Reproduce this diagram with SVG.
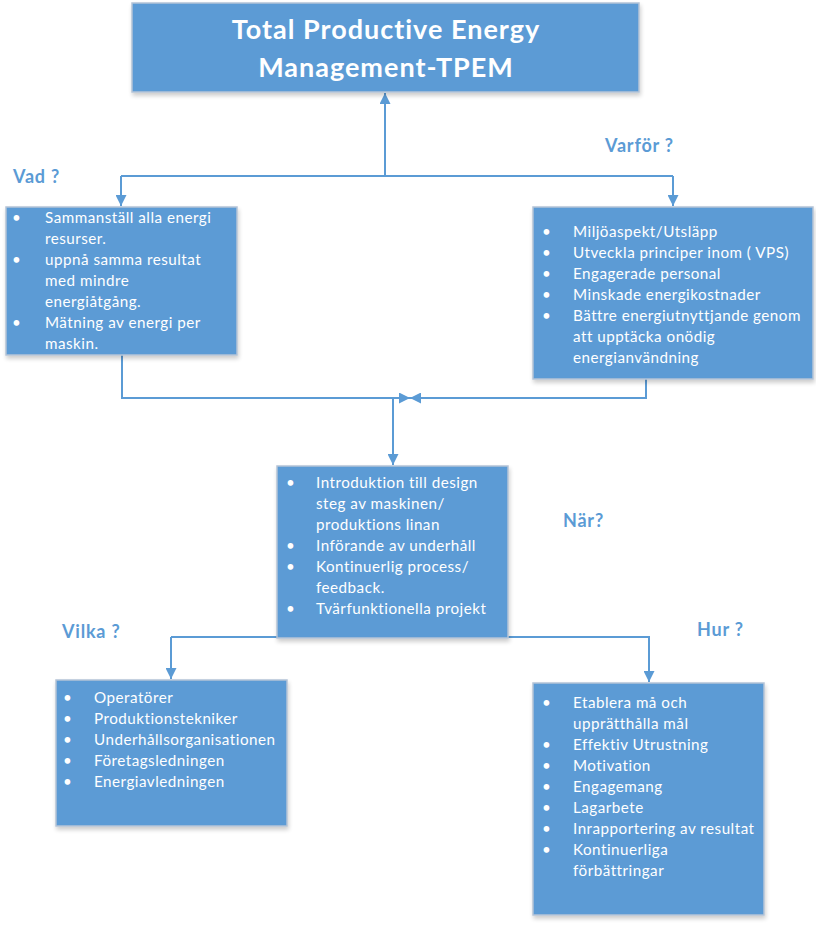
<svg xmlns="http://www.w3.org/2000/svg" width="816" height="926" viewBox="0 0 816 926">
<style>
.box{fill:#5B9BD5;stroke:#B4C3D6;stroke-width:1.5;filter:url(#sh)}
.t{font-family:Lato,"Liberation Sans",sans-serif;font-size:15.2px;letter-spacing:0.5px;fill:#FFFFFF}
.title{font-family:Lato,"Liberation Sans",sans-serif;font-size:27px;letter-spacing:1px;font-weight:bold;fill:#FFFFFF;text-anchor:middle}
.q{font-family:Lato,"Liberation Sans",sans-serif;font-size:18px;letter-spacing:0.8px;font-weight:bold;fill:#5B9BD5}
.c{fill:none;stroke:#5B9BD5;stroke-width:2}
</style>
<defs>
<filter id="sh" x="-5%" y="-5%" width="115%" height="120%">
<feGaussianBlur in="SourceAlpha" stdDeviation="2"/>
<feOffset dx="1" dy="3" result="b"/>
<feComponentTransfer><feFuncA type="linear" slope="0.2"/></feComponentTransfer>
<feMerge><feMergeNode/><feMergeNode in="SourceGraphic"/></feMerge>
</filter>
<marker id="ah" viewBox="0 0 10 10" refX="10" refY="5" markerWidth="5.5" markerHeight="5.5" orient="auto" markerUnits="strokeWidth">
<path d="M0,0 L10,5 L0,10 z" fill="#5B9BD5"/>
</marker>
</defs>

<g id="connectors">
<path class="c" d="M385,176 L385,93" marker-end="url(#ah)"/>
<path class="c" d="M121,176 L673,176"/>
<path class="c" d="M121,176 L121,206" marker-end="url(#ah)"/>
<path class="c" d="M673,176 L673,206" marker-end="url(#ah)"/>
<path class="c" d="M122,355 L122,398 L410,398" marker-end="url(#ah)"/>
<path class="c" d="M646,379 L646,398 L410,398" marker-end="url(#ah)"/>
<path class="c" d="M393,398 L393,465" marker-end="url(#ah)"/>
<path class="c" d="M171,637 L650,637"/>
<path class="c" d="M171,637 L171,679" marker-end="url(#ah)"/>
<path class="c" d="M649,637 L649,682" marker-end="url(#ah)"/>
</g>

<g id="tpem">
<rect class="box" x="132" y="3" width="507" height="89"/>
<text class="title" x="386" y="39">Total Productive Energy</text>
<text class="title" x="386" y="77">Management-TPEM</text>
</g>

<g id="vad">
<text class="q" x="13" y="183">Vad ?</text>
<rect class="box" x="6" y="207" width="231" height="148"/>
<g class="t">
<text x="12" y="223">•</text><text x="45" y="223">Sammanställ alla energi</text>
<text x="45" y="244">resurser.</text>
<text x="12" y="265">•</text><text x="45" y="265">uppnå samma resultat</text>
<text x="45" y="286">med mindre</text>
<text x="45" y="307">energiåtgång.</text>
<text x="12" y="328">•</text><text x="45" y="328">Mätning av energi per</text>
<text x="45" y="349">maskin.</text>
</g>
</g>

<g id="varfor">
<text class="q" x="605" y="152">Varför ?</text>
<rect class="box" x="533" y="207" width="280" height="172"/>
<g class="t">
<text x="542" y="237">•</text><text x="573" y="237">Miljöaspekt/Utsläpp</text>
<text x="542" y="258">•</text><text x="573" y="258">Utveckla principer inom ( VPS)</text>
<text x="542" y="279">•</text><text x="573" y="279">Engagerade personal</text>
<text x="542" y="300">•</text><text x="573" y="300">Minskade energikostnader</text>
<text x="542" y="321">•</text><text x="573" y="321">Bättre energiutnyttjande genom</text>
<text x="573" y="342">att upptäcka onödig</text>
<text x="573" y="363">energianvändning</text>
</g>
</g>

<g id="nar">
<rect class="box" x="277" y="466" width="231" height="172"/>
<g class="t">
<text x="286" y="488">•</text><text x="316" y="488">Introduktion till design</text>
<text x="316" y="509">steg av maskinen/</text>
<text x="316" y="530">produktions linan</text>
<text x="286" y="551">•</text><text x="316" y="551">Införande av underhåll</text>
<text x="286" y="572">•</text><text x="316" y="572">Kontinuerlig process/</text>
<text x="316" y="593">feedback.</text>
<text x="286" y="614">•</text><text x="316" y="614">Tvärfunktionella projekt</text>
</g>
<text class="q" x="563" y="527">När?</text>
</g>

<g id="vilka">
<text class="q" x="62" y="638">Vilka ?</text>
<rect class="box" x="56" y="680" width="231" height="146"/>
<g class="t">
<text x="63" y="703">•</text><text x="94" y="703">Operatörer</text>
<text x="63" y="724">•</text><text x="94" y="724">Produktionstekniker</text>
<text x="63" y="745">•</text><text x="94" y="745">Underhållsorganisationen</text>
<text x="63" y="766">•</text><text x="94" y="766">Företagsledningen</text>
<text x="63" y="787">•</text><text x="94" y="787">Energiavledningen</text>
</g>
</g>

<g id="hur">
<text class="q" x="697" y="636">Hur ?</text>
<rect class="box" x="533" y="683" width="231" height="232"/>
<g class="t">
<text x="542" y="708">•</text><text x="573" y="708">Etablera må och</text>
<text x="573" y="729">upprätthålla mål</text>
<text x="542" y="750">•</text><text x="573" y="750">Effektiv Utrustning</text>
<text x="542" y="771">•</text><text x="573" y="771">Motivation</text>
<text x="542" y="792">•</text><text x="573" y="792">Engagemang</text>
<text x="542" y="813">•</text><text x="573" y="813">Lagarbete</text>
<text x="542" y="834">•</text><text x="573" y="834">Inrapportering av resultat</text>
<text x="542" y="855">•</text><text x="573" y="855">Kontinuerliga</text>
<text x="573" y="876">förbättringar</text>
</g>
</g>
</svg>
